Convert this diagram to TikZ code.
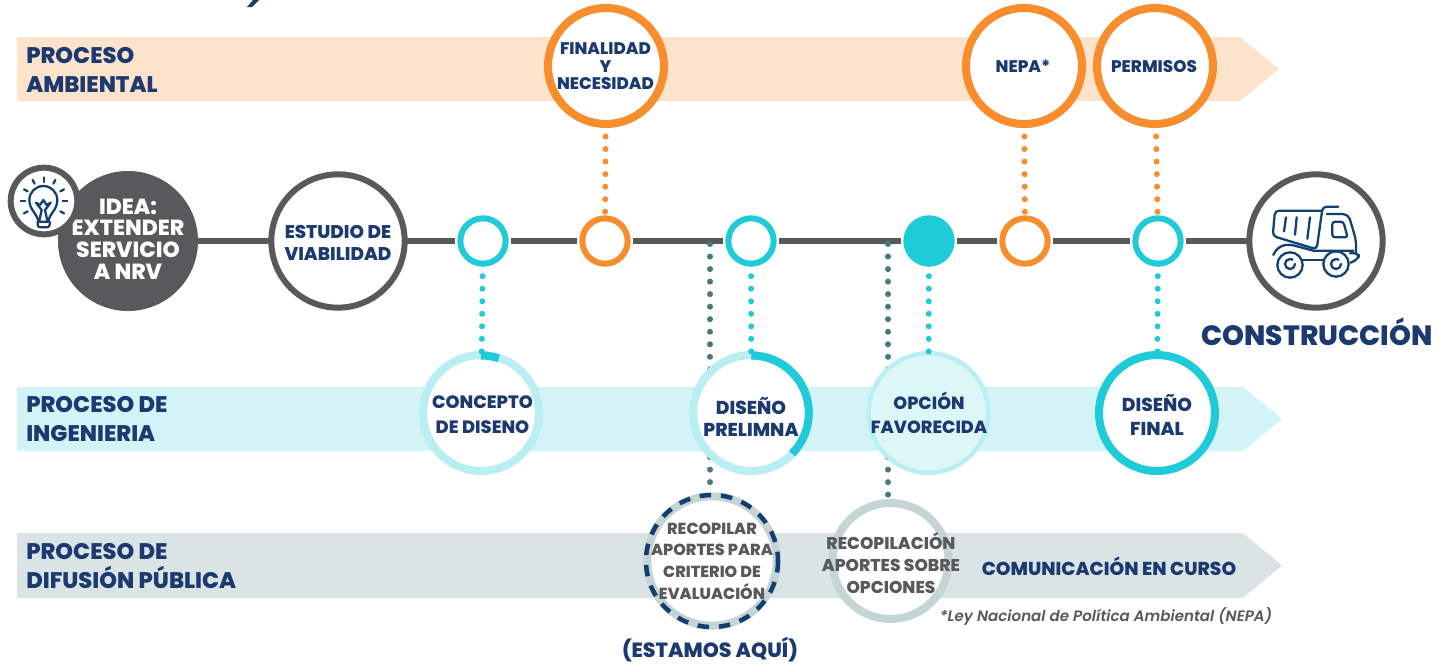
\documentclass[tikz,border=0pt]{standalone}
\usepackage{fontspec}
\setmainfont{Poppins}[BoldFont={* ExtraBold},ItalicFont={* SemiBold Italic}]
\usetikzlibrary{arrows.meta}
\definecolor{navy}{HTML}{1C3A70}
\definecolor{iconblue}{HTML}{123F70}
\definecolor{ink}{HTML}{58595B}
\definecolor{orng}{HTML}{F78D2D}
\definecolor{cyn}{HTML}{1FCBD8}
\definecolor{lcyn}{HTML}{B9EEF2}
\definecolor{bandO}{HTML}{FDE3CB}
\definecolor{bandC}{HTML}{D2F4F6}
\definecolor{bandG}{HTML}{DBE4E5}
\definecolor{ringG}{HTML}{C5D5D6}
\definecolor{teal}{HTML}{47797C}
\tikzset{
  x=0.75pt,y=-0.75pt,
  ring/.style={circle,inner sep=0pt,outer sep=0pt,fill=white},
  bigO/.style={ring,draw=orng,line width=6pt,minimum size=87pt},
  smallring/.style={ring,line width=4.5pt,minimum size=34pt},
  greyring/.style={ring,draw=ink,line width=4.5pt,minimum size=100pt},
  engring/.style={ring,draw=lcyn,line width=6pt,minimum size=87pt},
  pubring/.style={ring,draw=ringG,line width=6pt},
  head/.style={font=\bfseries\fontsize{16.9}{21.5}\selectfont,text=navy,align=left,anchor=west,inner sep=0pt},
  lab/.style={font=\bfseries\fontsize{12.6}{13.2}\selectfont,text=navy,align=center,inner sep=0pt},
  glab/.style={font=\bfseries\fontsize{12}{16.2}\selectfont,text=ink,align=center,inner sep=0pt},
  mainline/.style={draw=ink,line width=4.5pt,shorten >=4pt,shorten <=4pt},
  dotsO/.style={draw=orng,line width=4.5pt,line cap=round,dash pattern=on 0pt off 9.4pt},
  dotsC/.style={draw=cyn,line width=4.5pt,line cap=round,dash pattern=on 0pt off 9.4pt},
  dotsT/.style={draw=teal,line width=4.5pt,line cap=round,dash pattern=on 0pt off 9.4pt},
  icon/.style={draw=iconblue,line width=1.7pt,line cap=round,line join=round},
}
\begin{document}
\begin{tikzpicture}
\useasboundingbox (0,0) rectangle (1450,664);
\fill[white] (0,0) rectangle (1450,664);
% clipped title fragment
\fill[navy] (247,7) -- (252,7) -- (259,0) -- (253,0) -- cycle;
% bands
\fill[bandO] (17,37) -- (1240,37) -- (1279,69) -- (1240,101) -- (17,101) -- cycle;
\fill[bandC] (17,387) -- (1243,387) -- (1282,419) -- (1243,451) -- (17,451) -- cycle;
\fill[bandG] (17,533) -- (1243,533) -- (1282,565.5) -- (1243,598) -- (17,598) -- cycle;
\node[head] (hA) at (26,70) {PROCESO\\AMBIENTAL};
\node[head] (hI) at (26,419) {PROCESO DE\\INGENIERIA};
\node[head] (hD) at (26,566) {PROCESO DE\\DIFUSIÓN PÚBLICA};
% main nodes
\node[circle,fill=ink,inner sep=0pt,minimum size=105pt] (idea) at (128,241) {};
\node[greyring] (est) at (338,241) {};
\node[smallring,draw=cyn] (n1) at (483,241) {};
\node[smallring,draw=orng] (n2) at (605,241) {};
\node[smallring,draw=cyn] (n3) at (751,241) {};
\node[smallring,draw=cyn,fill=cyn] (n4) at (929,241) {};
\node[smallring,draw=orng] (n5) at (1025,241) {};
\node[smallring,draw=cyn] (n6) at (1158,241) {};
\node[greyring] (con) at (1316,241) {};
% main line
\draw[mainline,shorten <=0pt,shorten >=0pt] (idea) -- (est);
\draw[mainline,shorten <=0pt] (est) -- (n1);
\draw[mainline] (n1) -- (n2);
\draw[mainline] (n2) -- (n3);
\draw[mainline] (n3) -- (n4);
\draw[mainline] (n4) -- (n5);
\draw[mainline] (n5) -- (n6);
\draw[mainline,shorten >=0pt] (n6) -- (con);
% upper rings
\node[bigO] (fin) at (606,66) {};
\node[bigO] (nepa) at (1024,66) {};
\node[bigO] (perm) at (1155,66) {};
% lower rings
\coordinate (t1) at (710,244);
\coordinate (t2) at (888,244);
\node[pubring,minimum size=97pt] (rec) at (712,561) {};
\node[pubring,minimum size=87pt] (rop) at (890.5,561) {};
\draw[dotsT] (t1) -- (710,490);
\draw[dotsT] (t2) -- (888,495);
\node[engring] (cd) at (481,413) {};
\node[engring] (dp) at (751.3,413) {};
\node[engring,fill=white,fill opacity=1] (ofw) at (928.5,413) {};
\fill[bandC!75!white] (ofw.center) circle (57.5);
\node[engring,draw=cyn,fill=white] (df) at (1157,413) {};
% progress arcs
\draw[cyn,line width=6pt] (481,413) ++(-90:57.5) arc[start angle=-90,end angle=-72,radius=57.5];
\draw[cyn,line width=6pt] (751.3,413) ++(-90:57.5) arc[start angle=-90,end angle=45,radius=57.5];
\draw[draw=iconblue,line width=3.4pt,dash pattern=on 8.6pt off 7.4pt] (712,561) circle (66);
% dotted connectors
\draw[dotsO] (fin) -- (n2);
\draw[dotsO] (nepa) -- (n5);
\draw[dotsO] (perm) -- (n6);
\draw[dotsC] (n1) -- (cd);
\draw[dotsC] (n3) -- (dp);
\draw[dotsC] (n4) -- (ofw);
\draw[dotsC] (n6) -- (df);
% labels
\node[lab] (lf) at (605.5,66.5) {FINALIDAD\\Y\\NECESIDAD};
\node[lab] (ln) at (1023,66.5) {NEPA*};
\node[lab] (lp) at (1154,66.5) {PERMISOS};
\node[lab,font=\bfseries\fontsize{13.8}{16.5}\selectfont] (le) at (338,243) {ESTUDIO DE\\VIABILIDAD};
\node[font=\bfseries\fontsize{16.4}{16.2}\selectfont,text=white,align=center,inner sep=0pt] (li) at (128,239) {IDEA:\\EXTENDER\\SERVICIO\\A NRV};
\node[font=\bfseries\fontsize{20.9}{24}\selectfont,text=navy,inner sep=0pt] (lc) at (1317,332) {CONSTRUCCIÓN};
\node[lab,font=\bfseries\fontsize{13.4}{18.6}\selectfont] (l1) at (482.5,414.5) {CONCEPTO\\DE DISENO};
\node[lab,font=\bfseries\fontsize{14}{16.2}\selectfont] (l2) at (751,417) {DISEÑO\\PRELIMNA};
\node[lab,font=\bfseries\fontsize{13.2}{18.4}\selectfont] (l3) at (929,413) {OPCIÓN\\FAVORECIDA};
\node[lab,font=\bfseries\fontsize{14}{17.4}\selectfont] (l4) at (1157,415) {DISEÑO\\FINAL};
\node[glab] (l5) at (712,561) {RECOPILAR\\APORTES PARA\\CRITERIO DE\\EVALUACIÓN};
\node[glab,font=\bfseries\fontsize{12.8}{16.2}\selectfont] (l6) at (891,563) {RECOPILACIÓN\\APORTES SOBRE\\OPCIONES};
\node[lab,font=\bfseries\fontsize{14}{16}\selectfont] (l7) at (1109,566) {COMUNICACIÓN EN CURSO};
\node[lab,font=\bfseries\fontsize{15.4}{16}\selectfont] (l8) at (710,650) {(ESTAMOS AQUÍ)};
\node[font=\itshape\fontsize{11.3}{14}\selectfont,text=ink,inner sep=0pt] (l9) at (1106,617) {*Ley Nacional de Política Ambiental (NEPA)};
% bulb badge
\node[ring,draw=ink,line width=4.5pt,minimum size=50pt] (bulb) at (44,201) {};
\begin{scope}[shift={(0,0)},x=0.25pt,y=-0.25pt,icon]
 \draw (115,665) .. controls (112,640) and (88,630) .. (88,600) arc[start angle=180,end angle=360,radius=42] .. controls (172,630) and (148,640) .. (145,665) -- cycle;
 \draw[rounded corners=2pt] (113,665) -- (113,682) -- (149,682) -- (149,665);
 \draw (118,662) -- (125,630) -- (108,608) -- (120,615) -- (130,600) -- (140,615) -- (152,608) -- (135,630) -- (142,662);
 \draw (132,532) -- (132,546);
 \draw (98,540) -- (104,551);
 \draw (166,540) -- (160,551);
 \draw (72,568) -- (83,574);
 \draw (192,568) -- (181,574);
 \draw (62,603) -- (76,603);
 \draw (188,603) -- (202,603);
 \draw (72,640) -- (83,634);
 \draw (192,640) -- (181,634);
\end{scope}
% truck
\begin{scope}[shift={(1180,160)},x=0.25pt,y=-0.25pt,icon]
 \draw[rounded corners=3pt] (425,152) -- (285,152) -- (278,228) -- (410,268) -- (428,140) -- (475,140);
 \draw (318,172) -- (312,214);
 \draw (350,172) -- (345,224);
 \draw (390,172) -- (382,236);
 \draw[rounded corners=4pt] (440,162) -- (505,162) -- (528,240) -- (528,278);
 \draw[rounded corners=2pt] (457,185) -- (490,185) -- (503,232) -- (457,232) -- cycle;
 \draw[rounded corners=3pt] (510,280) -- (536,280) -- (536,296) -- (512,308);
 \draw (280,285) .. controls (290,262) and (310,250) .. (340,256) -- (400,272) -- (520,272);
 \draw[fill=white] (330,315) circle (38);
 \draw[fill=white] (468,312) circle (38);
 \draw (345,312) arc[start angle=0,end angle=300,radius=15];
 \draw (483,312) arc[start angle=0,end angle=300,radius=15];
 \draw (368,300) -- (430,300);
\end{scope}
\end{tikzpicture}
\end{document}
